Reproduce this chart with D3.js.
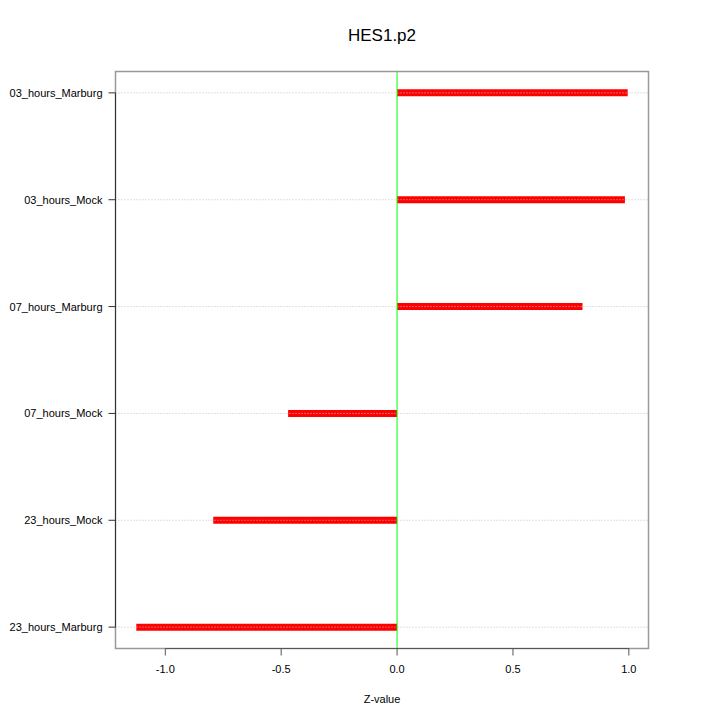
<!DOCTYPE html>
<html>
<head>
<meta charset="utf-8">
<script src="https://cdn.jsdelivr.net/npm/d3@7"></script>
<style>
  body { margin: 0; background: #fff; }
  text { font-family: "Liberation Sans", Arial, sans-serif; }
</style>
</head>
<body>
<div id="chart"></div>
<script>
var categories = ['23_hours_Marburg', '23_hours_Mock', '07_hours_Mock', '07_hours_Marburg', '03_hours_Mock', '03_hours_Marburg'];
var values = [-1.125, -0.793, -0.47, 0.80, 0.983, 0.995];
var xTicks = [-1.0, -0.5, 0.0, 0.5, 1.0];

var w = 720, h = 720;
var padL = 115.5, padR = 648.5, padT = 71.5, padB = 648.5;

var svg = d3.select('#chart').append('svg')
  .attr('width', w)
  .attr('height', h);

svg.append('rect').attr('width', w).attr('height', h).attr('fill', '#fff');

var x = d3.scaleLinear().domain([-1.2148, 1.0848]).range([padL, padR]);
var y = d3.scaleLinear().domain([0.8, 6.2]).range([padB, padT]);

var rows = categories.map(function (c, i) { return {name: c, value: values[i], pos: i + 1}; });

// bars
svg.selectAll('.bar').data(rows).enter().append('line')
  .attr('class', 'bar')
  .attr('x1', x(0)).attr('x2', d => x(d.value))
  .attr('y1', d => y(d.pos)).attr('y2', d => y(d.pos))
  .attr('stroke', '#ff0000')
  .attr('stroke-width', 7);

// grid lines over bars
svg.selectAll('.grid').data(rows).enter().append('line')
  .attr('class', 'grid')
  .attr('x1', padL).attr('x2', padR)
  .attr('y1', d => y(d.pos)).attr('y2', d => y(d.pos))
  .attr('stroke', '#c0c0c0')
  .attr('stroke-width', 1)
  .attr('stroke-dasharray', '1,2');

// zero line
svg.append('line')
  .attr('x1', x(0)).attr('x2', x(0))
  .attr('y1', padT).attr('y2', padB)
  .attr('stroke', '#00ff00')
  .attr('stroke-width', 1);

// box
svg.append('rect')
  .attr('x', padL).attr('y', padT)
  .attr('width', padR - padL).attr('height', padB - padT)
  .attr('fill', 'none')
  .attr('stroke', '#999')
  .attr('stroke-width', 1.5);

// x axis
var xAxis = svg.append('g').attr('transform', 'translate(0,' + padB + ')');
xAxis.append('line').attr('x1', x(-1)).attr('x2', x(1)).attr('stroke', '#555');
xAxis.selectAll('.tick').data(xTicks).enter().append('line')
  .attr('x1', d => x(d)).attr('x2', d => x(d))
  .attr('y1', 0).attr('y2', 7)
  .attr('stroke', '#555');
xAxis.selectAll('.lab').data(xTicks).enter().append('text')
  .attr('x', d => x(d)).attr('y', 24)
  .attr('text-anchor', 'middle')
  .attr('font-size', 11)
  .text(d => d3.format('.1f')(d).replace('−', '-'));

// y axis
var yAxis = svg.append('g');
yAxis.append('line').attr('x1', padL).attr('x2', padL)
  .attr('y1', y(1)).attr('y2', y(6)).attr('stroke', '#333');
yAxis.selectAll('.tick').data(rows).enter().append('line')
  .attr('x1', padL - 7).attr('x2', padL)
  .attr('y1', d => y(d.pos)).attr('y2', d => y(d.pos))
  .attr('stroke', '#333');
yAxis.selectAll('.lab').data(rows).enter().append('text')
  .attr('x', padL - 13).attr('y', d => y(d.pos) + 4)
  .attr('text-anchor', 'end')
  .attr('font-size', 11)
  .text(d => d.name);

svg.append('text')
  .attr('x', (padL + padR) / 2).attr('y', 703)
  .attr('text-anchor', 'middle')
  .attr('font-size', 11)
  .text('Z-value');

svg.append('text')
  .attr('x', (padL + padR) / 2).attr('y', 41)
  .attr('text-anchor', 'middle')
  .attr('font-size', 17)
  .text('HES1.p2');
</script>
</body>
</html>
